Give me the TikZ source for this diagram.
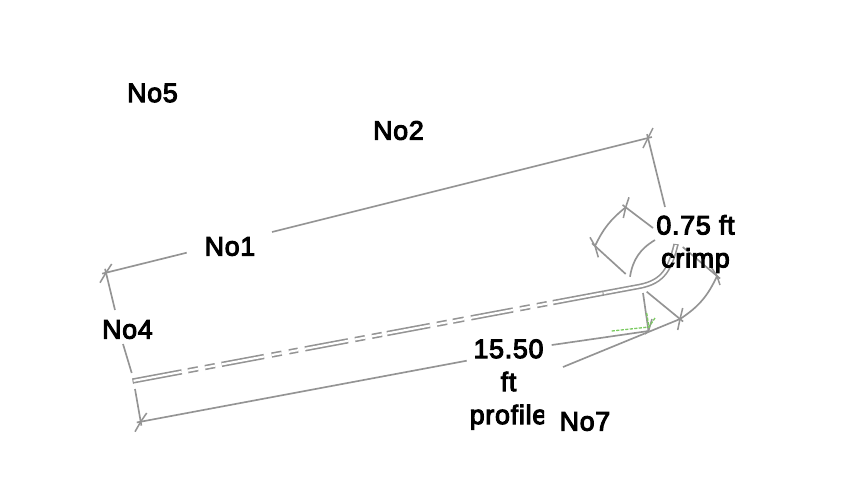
\documentclass[tikz,border=0pt]{standalone}
\usepackage{fontspec}
\setmainfont[LetterSpace=3,FakeBold=4]{Liberation Sans}
\usetikzlibrary{calc}
\definecolor{sketchgray}{HTML}{949494}
\definecolor{markgreen}{HTML}{7CCB62}
\tikzset{
  dimline/.style={draw=sketchgray,line width=1.25pt},
  tickline/.style={draw=sketchgray,line width=1.15pt},
  pipeline/.style={draw=sketchgray,line width=1.2pt,double=white,double distance=1.6pt},
  greenline/.style={draw=markgreen,line width=1pt,dash pattern=on 2.4pt off 1pt},
  dimlabel/.style={text=black,font=\fontsize{20}{24.75}\selectfont,align=center,inner sep=0pt}
}
\begin{document}
\begin{tikzpicture}[x=0.75pt,y=-0.75pt]
  \useasboundingbox (0,0) rectangle (848,480);
  % dimension corners
  \coordinate (topL) at (106,272.7);
  \coordinate (topR) at (648,138);
  \coordinate (botL) at (140.7,421.7);
  \coordinate (botM) at (648.5,331);
  \coordinate (botR) at (680,319);
  \coordinate (arcA) at (595,246);
  \coordinate (arcB) at (625.7,207.3);
  \coordinate (arcC) at (717,276);
  % pipe, straight part with its breaks
  \coordinate (pipeA) at (132.7,381);
  \coordinate (pipeB) at (604,293);
  \foreach \a/\b in {132.7/181.7,188/198,205/215,221.7/264,271.7/281.7,289/298,305/348,355/365,372/382,
      387/430,437/447,453/464,471/513,520/530,537/547,553/604}{
    \draw[pipeline] ($(pipeA)!{(\a-132.7)/471.3}!(pipeB)$) -- ($(pipeA)!{(\b-132.7)/471.3}!(pipeB)$);
  }
  % pipe, bend
  \coordinate (pipeC) at (676,244.5);
  \draw[pipeline] (pipeB) -- (640,286.3) .. controls (664,281.5) and (670,268) .. (pipeC);
  \draw[draw=sketchgray,line width=0.7pt] (132.7,378.5) -- (133.4,383.5);
  \draw[draw=sketchgray,line width=0.7pt] (602.7,290.8) -- (603.4,295.6);
  \draw[draw=sketchgray,line width=0.7pt] (673.2,244.2) -- (678.8,244.8);
  % long dimensions
  \coordinate (gapTopA) at (186.7,252.7);
  \coordinate (gapTopB) at (272,232);
  \draw[dimline,shorten <=-3pt] (topL) to (gapTopA);
  \draw[dimline,shorten >=-3pt] (gapTopB) to (topR);
  \coordinate (extTop) at (665,207);
  \draw[dimline,shorten <=-3pt] (topR) to (extTop);
  \coordinate (extLa) at (115,310);
  \coordinate (extLb) at (123,344);
  \coordinate (extLc) at (131.7,373);
  \coordinate (extLd) at (135,389);
  \draw[dimline,shorten <=-3pt] (topL) to (extLa);
  \draw[dimline] (extLb) to (extLc);
  \draw[dimline,shorten >=-3pt] (extLd) to (botL);
  \coordinate (gapBotA) at (466.7,360.7);
  \coordinate (gapBotB) at (551.7,345);
  \draw[dimline,shorten <=-3pt] (botL) to (gapBotA);
  \draw[dimline] (gapBotB) to (botM);
  \coordinate (outerEnd) at (563,367);
  \draw[dimline] (outerEnd) to (botR);
  \coordinate (extM) at (643,293);
  \coordinate (extR) at (646.7,291.7);
  \draw[dimline] (extM) to (botM);
  \draw[dimline,shorten >=-3pt] (extR) to (botR);
  % crimp dimensions
  \draw[dimline] (botR) to[bend right=16] (arcC);
  \coordinate (extC) at (682.7,247);
  \draw[dimline,shorten >=-3pt] (extC) to (arcC);
  \draw[dimline] (arcA) to[bend left=13] (arcB);
  \coordinate (extB) at (653,228);
  \coordinate (extA) at (625.7,274);
  \coordinate (innerA) at (630,276.7);
  \coordinate (innerB) at (655,240);
  \draw[dimline,shorten <=-3pt] (arcB) to (extB);
  \draw[dimline,shorten <=-3pt] (arcA) to (extA);
  \draw[dimline] (innerA) to[bend left=25] (innerB);
  % ticks
  \draw[tickline] (111.7,264) -- (topL) -- (100,282.7);
  \draw[tickline] (653,128) -- (topR) -- (643,148);
  \draw[tickline] (146.7,413) -- (botL) -- (135,431.7);
  \draw[tickline] (682.7,308) -- (botR) -- (677.7,330);
  \draw[tickline] (711,267) -- (arcC) -- (720,285);
  \draw[tickline] (629,197.3) -- (arcB) -- (623.3,218);
  \draw[tickline] (590,237.3) -- (arcA) -- (598.3,257.3);
  \draw[tickline] (652,319) -- (botM) -- (645,334);
  % green marks
  \coordinate (greenA) at (611.7,331);
  \coordinate (greenB) at (655,318);
  \coordinate (greenC) at (646.7,313);
  \coordinate (greenD) at (649,328);
  \draw[greenline] (greenA) -- (649,327) -- (greenB);
  \draw[greenline] (greenC) to (greenD);
  % labels
  \node[dimlabel] (no5) at (152.5,93) {No5};
  \node[dimlabel] (no2) at (398.5,130.5) {No2};
  \node[dimlabel] (no1) at (230,246.5) {No1};
  \node[dimlabel] (no4) at (127.5,329.5) {No4};
  \node[dimlabel] (no7) at (585,421.5) {No7};
  \node[dimlabel] (crimp) at (695.5,244) {0.75 ft\\crimp};
  \begin{scope}
    \clip (440,330) rectangle (544,440);
    \node[dimlabel] (profile) at (508.5,384.5) {15.50\\ft\\profile};
  \end{scope}
\end{tikzpicture}
\end{document}
